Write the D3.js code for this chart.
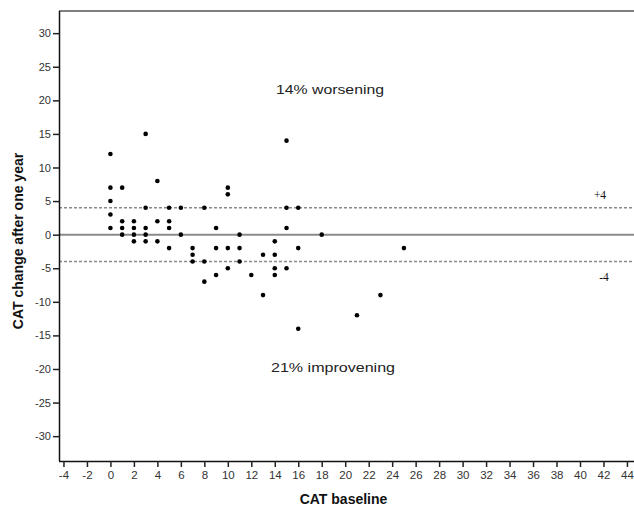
<!DOCTYPE html>
<html>
<head>
<meta charset="utf-8">
<script src="https://cdn.jsdelivr.net/npm/d3@7"></script>
<style>
  html, body { margin: 0; padding: 0; background: #fff; }
  svg { display: block; }
  text { font-family: Arial, "Liberation Sans", sans-serif; }
</style>
</head>
<body>
<svg id="chart" width="634" height="507"></svg>
<script>
// CAT baseline score (x) and change after one year (y), one entry per patient
const baseline = [
  0, 0, 0, 0, 0,
  1, 1, 1, 1,
  2, 2, 2, 2,
  3, 3, 3, 3, 3,
  4, 4, 4,
  5, 5, 5, 5,
  6, 6,
  7, 7, 7,
  8, 8, 8,
  9, 9, 9,
  10, 10, 10, 10,
  11, 11, 11,
  12,
  13, 13,
  14, 14, 14, 14,
  15, 15, 15, 15,
  16, 16, 16,
  18,
  21,
  23,
  25
];
const change = [
  12, 7, 5, 3, 1,
  7, 2, 1, 0,
  2, 1, 0, -1,
  15, 4, 1, 0, -1,
  8, 2, -1,
  4, 2, 1, -2,
  4, 0,
  -2, -3, -4,
  4, -4, -7,
  1, -2, -6,
  7, 6, -2, -5,
  0, -2, -4,
  -6,
  -3, -9,
  -1, -3, -5, -6,
  14, 4, 1, -5,
  4, -2, -14,
  0,
  -12,
  -9,
  -2
];
const xTicks = d3.range(-4, 45, 2);
const yTicks = d3.range(-30, 31, 5);
const thresholds = [4, -4];
const thresholdLabels = ["+4", "-4"];
const annotations = ["14% worsening", "21% improvening"];

const svg = d3.select("#chart");
const plotL = 59, plotR = 634, plotT = 11, plotB = 461;

const x = d3.scaleLinear().domain([-4.38, 44.6]).range([plotL, plotR]);
const y = d3.scaleLinear().domain([-33.7, 33.3]).range([plotB, plotT]);

// plain hyphen for negative numbers
const fmt = d => String(d);

// frame top edge
svg.append("line")
  .attr("x1", plotL).attr("x2", plotR)
  .attr("y1", plotT).attr("y2", plotT)
  .attr("stroke", "#555").attr("stroke-width", 1.5);

// reference lines: zero change and the +/-4 clinically relevant thresholds
svg.append("line")
  .attr("x1", plotL).attr("x2", plotR)
  .attr("y1", y(0)).attr("y2", y(0))
  .attr("stroke", "#8a8a8a").attr("stroke-width", 2);

svg.selectAll("line.thr")
  .data(thresholds)
  .join("line")
  .attr("class", "thr")
  .attr("x1", plotL).attr("x2", plotR)
  .attr("y1", d => y(d)).attr("y2", d => y(d))
  .attr("stroke", "#8a8a8a").attr("stroke-width", 1.4)
  .attr("stroke-dasharray", "3,2");

svg.selectAll("text.thr")
  .data(thresholds)
  .join("text")
  .attr("class", "thr")
  .attr("x", (d, i) => i === 0 ? 600 : 604)
  .attr("y", d => y(d) + (d > 0 ? -9 : 19))
  .attr("text-anchor", "middle")
  .style("font-family", "'Liberation Serif', 'Times New Roman', serif")
  .style("font-size", "11.5px")
  .attr("fill", "#111")
  .text((d, i) => thresholdLabels[i]);

// axes
const xAxis = d3.axisBottom(x).tickValues(xTicks).tickSize(6).tickPadding(4)
  .tickFormat(fmt);
const gx = svg.append("g").attr("transform", `translate(0,${plotB})`).call(xAxis);
gx.select(".domain").attr("d", `M${plotL},0.5H${plotR}`).attr("stroke", "#111").attr("stroke-width", 1.5);
gx.selectAll(".tick line").attr("stroke", "#222").attr("stroke-width", 1.5);
gx.selectAll(".tick text").style("font-size", "11.5px").attr("fill", "#333")
  .style("font-family", "Arial, 'Liberation Sans', sans-serif");

const yAxis = d3.axisLeft(y).tickValues(yTicks).tickSize(6).tickPadding(2)
  .tickFormat(fmt);
const gy = svg.append("g").attr("transform", `translate(${plotL},0)`).call(yAxis);
gy.select(".domain").attr("d", `M0.5,${plotT}V${plotB}`).attr("stroke", "#111").attr("stroke-width", 1.5);
gy.selectAll(".tick line").attr("stroke", "#222").attr("stroke-width", 1.5);
gy.selectAll(".tick text").style("font-size", "11px").attr("fill", "#333")
  .style("font-family", "Arial, 'Liberation Sans', sans-serif");

// axis titles
svg.append("text")
  .attr("x", (plotL + 628) / 2).attr("y", 504)
  .attr("text-anchor", "middle")
  .style("font-size", "14px").style("font-weight", "bold")
  .attr("fill", "#111")
  .text("CAT baseline");

svg.append("text")
  .attr("transform", "translate(23,241) rotate(-90)")
  .attr("text-anchor", "middle")
  .style("font-size", "14px").style("font-weight", "bold")
  .attr("fill", "#111")
  .text("CAT change after one year");

// share of patients beyond the thresholds
svg.selectAll("text.note")
  .data(annotations)
  .join("text")
  .attr("class", "note")
  .attr("x", (d, i) => i === 0 ? 330 : 333)
  .attr("y", (d, i) => i === 0 ? 93.5 : 372)
  .attr("text-anchor", "middle")
  .style("font-size", "13px")
  .attr("textLength", (d, i) => i === 0 ? 108 : 124)
  .attr("lengthAdjust", "spacingAndGlyphs")
  .attr("fill", "#222")
  .text(d => d);

// patients
svg.selectAll("circle.pt")
  .data(baseline.map((b, i) => [b, change[i]]))
  .join("circle")
  .attr("class", "pt")
  .attr("cx", d => x(d[0]))
  .attr("cy", d => y(d[1]))
  .attr("r", 2.3)
  .attr("fill", "#000");
</script>
</body>
</html>
